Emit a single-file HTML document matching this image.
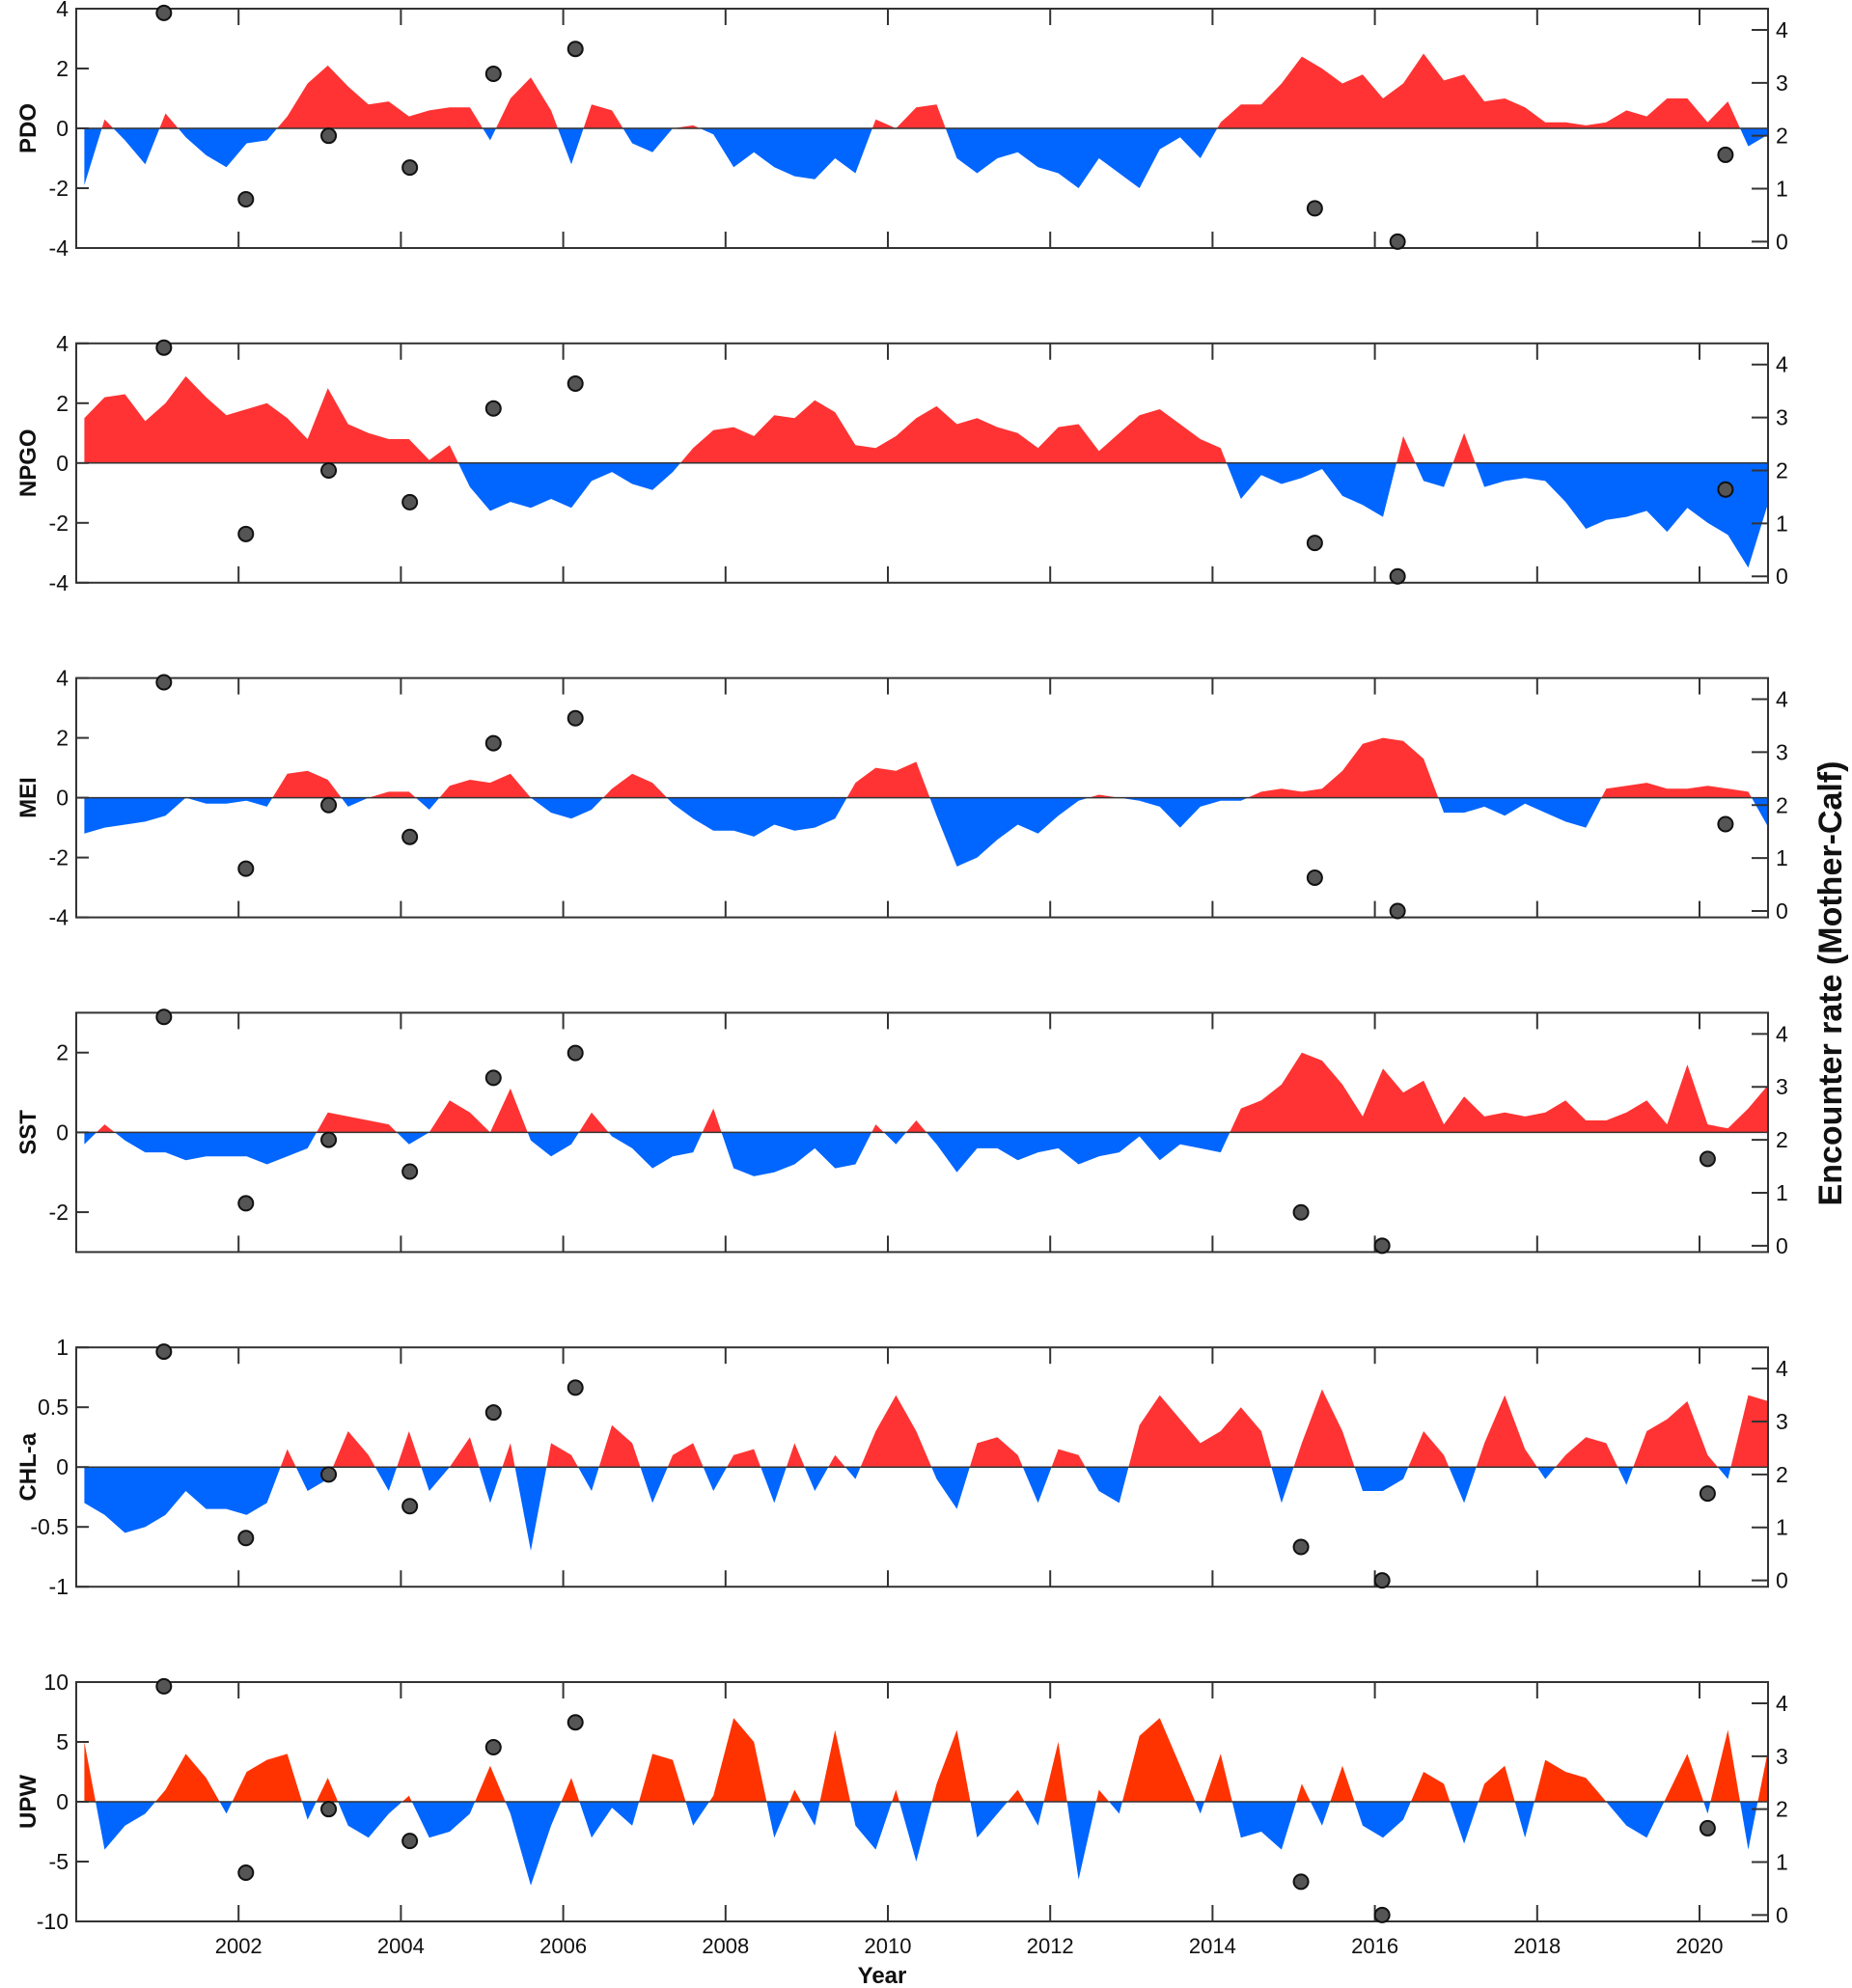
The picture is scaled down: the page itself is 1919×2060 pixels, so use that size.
<!DOCTYPE html>
<html><head><meta charset="utf-8">
<style>
html,body{margin:0;padding:0;background:#fff;}
svg{display:block;font-family:"Liberation Sans",Arial,sans-serif;}
</style></head>
<body>
<svg id="chart" width="1919" height="2060" viewBox="0 0 1919 2060" xmlns="http://www.w3.org/2000/svg"></svg>
<script>
// ---- data ----
const startYear = 2000.1;
const stepYear = 0.25;
const pdo = [-1.9,0.3,-0.4,-1.2, 0.5,-0.3,-0.9,-1.3, -0.5,-0.4,0.4,1.5, 2.1,1.4,0.8,0.9, 0.4,0.6,0.7,0.7, -0.4,1.0,1.7,0.6, -1.2,0.8,0.6,-0.5, -0.8,0.0,0.1,-0.2, -1.3,-0.8,-1.3,-1.6, -1.7,-1.0,-1.5,0.3, 0.0,0.7,0.8,-1.0, -1.5,-1.0,-0.8,-1.3, -1.5,-2.0,-1.0,-1.5, -2.0,-0.7,-0.3,-1.0, 0.2,0.8,0.8,1.5, 2.4,2.0,1.5,1.8, 1.0,1.5,2.5,1.6, 1.8,0.9,1.0,0.7, 0.2,0.2,0.1,0.2, 0.6,0.4,1.0,1.0, 0.2,0.9,-0.6,-0.2];
const npgo = [1.5,2.2,2.3,1.4, 2.0,2.9,2.2,1.6, 1.8,2.0,1.5,0.8, 2.5,1.3,1.0,0.8, 0.8,0.1,0.6,-0.8, -1.6,-1.3,-1.5,-1.2, -1.5,-0.6,-0.3,-0.7, -0.9,-0.3,0.5,1.1, 1.2,0.9,1.6,1.5, 2.1,1.7,0.6,0.5, 0.9,1.5,1.9,1.3, 1.5,1.2,1.0,0.5, 1.2,1.3,0.4,1.0, 1.6,1.8,1.3,0.8, 0.5,-1.2,-0.4,-0.7, -0.5,-0.2,-1.1,-1.4, -1.8,0.9,-0.6,-0.8, 1.0,-0.8,-0.6,-0.5, -0.6,-1.3,-2.2,-1.9, -1.8,-1.6,-2.3,-1.5, -2.0,-2.4,-3.5,-1.3];
const mei = [-1.2,-1.0,-0.9,-0.8, -0.6,0.0,-0.2,-0.2, -0.1,-0.3,0.8,0.9, 0.6,-0.3,0.0,0.2, 0.2,-0.4,0.4,0.6, 0.5,0.8,0.0,-0.5, -0.7,-0.4,0.3,0.8, 0.5,-0.2,-0.7,-1.1, -1.1,-1.3,-0.9,-1.1, -1.0,-0.7,0.5,1.0, 0.9,1.2,-0.6,-2.3, -2.0,-1.4,-0.9,-1.2, -0.6,-0.1,0.1,0.0, -0.1,-0.3,-1.0,-0.3, -0.1,-0.1,0.2,0.3, 0.2,0.3,0.9,1.8, 2.0,1.9,1.3,-0.5, -0.5,-0.3,-0.6,-0.2, -0.5,-0.8,-1.0,0.3, 0.4,0.5,0.3,0.3, 0.4,0.3,0.2,-1.0];
const sst = [-0.3,0.2,-0.2,-0.5, -0.5,-0.7,-0.6,-0.6, -0.6,-0.8,-0.6,-0.4, 0.5,0.4,0.3,0.2, -0.3,0.0,0.8,0.5, 0.0,1.1,-0.2,-0.6, -0.3,0.5,-0.1,-0.4, -0.9,-0.6,-0.5,0.6, -0.9,-1.1,-1.0,-0.8, -0.4,-0.9,-0.8,0.2, -0.3,0.3,-0.3,-1.0, -0.4,-0.4,-0.7,-0.5, -0.4,-0.8,-0.6,-0.5, -0.1,-0.7,-0.3,-0.4, -0.5,0.6,0.8,1.2, 2.0,1.8,1.2,0.4, 1.6,1.0,1.3,0.2, 0.9,0.4,0.5,0.4, 0.5,0.8,0.3,0.3, 0.5,0.8,0.2,1.7, 0.2,0.1,0.6,1.2];
const chl = [-0.3,-0.4,-0.55,-0.5, -0.4,-0.2,-0.35,-0.35, -0.4,-0.3,0.15,-0.2, -0.1,0.3,0.1,-0.2, 0.3,-0.2,0.0,0.25, -0.3,0.2,-0.7,0.2, 0.1,-0.2,0.35,0.2, -0.3,0.1,0.2,-0.2, 0.1,0.15,-0.3,0.2, -0.2,0.1,-0.1,0.3, 0.6,0.3,-0.1,-0.35, 0.2,0.25,0.1,-0.3, 0.15,0.1,-0.2,-0.3, 0.35,0.6,0.4,0.2, 0.3,0.5,0.3,-0.3, 0.2,0.65,0.3,-0.2, -0.2,-0.1,0.3,0.1, -0.3,0.2,0.6,0.15, -0.1,0.1,0.25,0.2, -0.15,0.3,0.4,0.55, 0.1,-0.1,0.6,0.55];
const upw = [5.0,-4.0,-2.0,-1.0, 1.0,4.0,2.0,-1.0, 2.5,3.5,4.0,-1.5, 2.0,-2.0,-3.0,-1.0, 0.5,-3.0,-2.5,-1.0, 3.0,-1.0,-7.0,-2.0, 2.0,-3.0,-0.5,-2.0, 4.0,3.5,-2.0,0.5, 7.0,5.0,-3.0,1.0, -2.0,6.0,-2.0,-4.0, 1.0,-5.0,1.5,6.0, -3.0,-1.0,1.0,-2.0, 5.0,-6.5,1.0,-1.0, 5.5,7.0,3.0,-1.0, 4.0,-3.0,-2.5,-4.0, 1.5,-2.0,3.0,-2.0, -3.0,-1.5,2.5,1.5, -3.5,1.5,3.0,-3.0, 3.5,2.5,2.0,0.0, -2.0,-3.0,0.5,4.0, -1.0,6.0,-4.0,4.5];
const encounterRate = [4.32,0.8,2.0,1.4,3.17,3.64,0.63,0.0,1.64];
const dotYearsA = [2001.08,2002.09,2003.11,2004.11,2005.14,2006.15,2015.26,2016.28,2020.32];
const dotYearsB = [2001.08,2002.09,2003.11,2004.11,2005.14,2006.15,2015.09,2016.09,2020.1];
const yearTicks = [2002,2004,2006,2008,2010,2012,2014,2016,2018,2020];
const rightTicks = [0,1,2,3,4];
const panelNames = ["PDO","NPGO","MEI","SST","CHL-a","UPW"];
const panelTicks = [[-4,-2,0,2,4],[-4,-2,0,2,4],[-4,-2,0,2,4],[-2,0,2],[-1,-0.5,0,0.5,1],[-10,-5,0,5,10]];
const panelRanges = [[-4,4],[-4,4],[-4,4],[-3,3],[-1,1],[-10,10]];

// ---- layout ----
const svg = document.getElementById('chart');
const NS = 'http://www.w3.org/2000/svg';
const X0 = 79, X1 = 1832, XMIN = 2000, XMAX = 2000 + (X1 - X0) / 84.1;
const PH = 248, PGAP = 346.8, PTOP = 9;
const xs = t => X0 + (t - XMIN) / (XMAX - XMIN) * (X1 - X0);
function el(tag, attrs, parent) {
  const e = document.createElementNS(NS, tag);
  for (const k in attrs) e.setAttribute(k, attrs[k]);
  (parent || svg).appendChild(e);
  return e;
}
const series = [pdo, npgo, mei, sst, chl, upw];
const posColors = ["#ff3333","#ff3333","#ff3333","#ff3333","#ff3333","#ff3300"];

series.forEach((vals, p) => {
  const top = PTOP + p * PGAP, bot = top + PH;
  const [lo, hi] = panelRanges[p];
  const ys = v => bot - (v - lo) / (hi - lo) * PH;
  const rys = v => bot - (v + 0.12) / 4.52 * PH;
  const key = panelNames[p].toLowerCase().replace(/[^a-z]/g, '');
  const g = el('g', {});
  
  
  const y0 = ys(0);
  const cA = el('clipPath', { id: 'ca' + p }, g);
  el('rect', { x: X0, y: top, width: X1 - X0, height: y0 - top }, cA);
  const cB = el('clipPath', { id: 'cb' + p }, g);
  el('rect', { x: X0, y: y0, width: X1 - X0, height: bot - y0 }, cB);
  let d = 'M' + xs(startYear) + ',' + y0;
  vals.forEach((v, i) => { d += ' L' + xs(startYear + i * stepYear).toFixed(1) + ',' + ys(v).toFixed(1); });
  d += ' L' + xs(startYear + (vals.length - 1) * stepYear).toFixed(1) + ',' + y0 + ' Z';
  const pos = el('path', { d: d, fill: posColors[p], 'clip-path': 'url(#ca' + p + ')' }, g);
  
  
  const neg = el('path', { d: d, fill: '#0066ff', 'clip-path': 'url(#cb' + p + ')' }, g);
  
  
  const zl = el('line', { x1: X0, x2: X1, y1: y0, y2: y0, stroke: '#333', 'stroke-width': 1.5 }, g);
  
  
  const box = el('rect', { x: X0, y: top, width: X1 - X0, height: PH, fill: 'none', stroke: '#333', 'stroke-width': 2 }, g);
  
  
  yearTicks.forEach(yr => {
    const x = xs(yr);
    el('line', { x1: x, x2: x, y1: top, y2: top + 17, stroke: '#333', 'stroke-width': 2 }, g);
    el('line', { x1: x, x2: x, y1: bot, y2: bot - 17, stroke: '#333', 'stroke-width': 2 }, g);
    if (p === 5) {
      const t = el('text', { x: x, y: bot + 33, 'font-size': 22, 'text-anchor': 'middle', fill: '#111' }, g);
      t.textContent = yr;
      
      
    }
  });
  panelTicks[p].forEach(v => {
    const y = ys(v);
    el('line', { x1: X0, x2: X0 + 13, y1: y, y2: y, stroke: '#333', 'stroke-width': 2 }, g);
    const t = el('text', { x: X0 - 8, y: y + 8, 'font-size': 23, 'text-anchor': 'end', fill: '#111' }, g);
    t.textContent = v;
    
    
  });
  rightTicks.forEach(v => {
    const y = rys(v);
    el('line', { x1: X1, x2: X1 - 17, y1: y, y2: y, stroke: '#333', 'stroke-width': 2 }, g);
    const t = el('text', { x: X1 + 8, y: y + 8, 'font-size': 23, fill: '#111' }, g);
    t.textContent = v;
    
    
  });
  const cy = (top + bot) / 2;
  const lab = el('text', { x: 0, y: 0, transform: 'translate(37,' + cy + ') rotate(-90)', 'font-size': 24, 'font-weight': 'bold', 'text-anchor': 'middle', fill: '#111' }, g);
  lab.textContent = panelNames[p];
  
  
  const dy = p < 3 ? dotYearsA : dotYearsB;
  encounterRate.forEach((v, i) => {
    const c = el('circle', { cx: xs(dy[i]), cy: rys(v), r: 7.5, fill: '#555', stroke: '#111', 'stroke-width': 2 }, g);
    
    
  });
});

const yl = el('text', { x: 0, y: 0, transform: 'translate(1908,1019) rotate(-90)', 'font-size': 34, 'font-weight': 'bold', 'text-anchor': 'middle', fill: '#111' });
yl.textContent = 'Encounter rate (Mother-Calf)';


const xl = el('text', { x: 914, y: 2055, 'font-size': 24, 'font-weight': 'bold', 'text-anchor': 'middle', fill: '#111' });
xl.textContent = 'Year';


</script>
</body></html>
